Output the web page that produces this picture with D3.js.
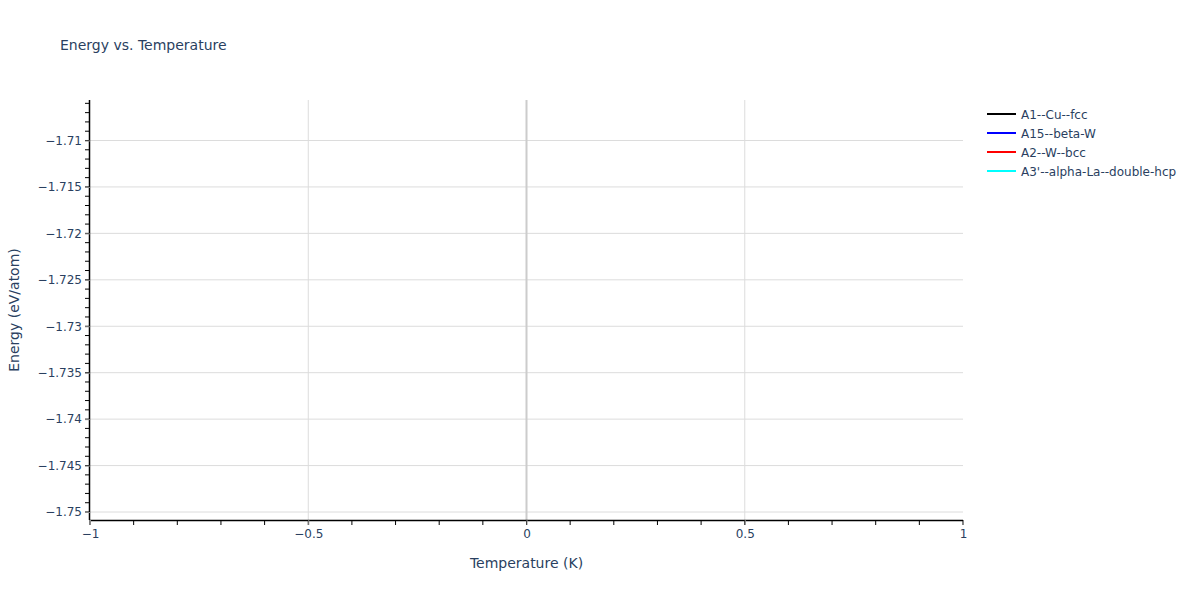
<!DOCTYPE html>
<html>
<head>
<meta charset="utf-8">
<script src="https://cdn.jsdelivr.net/npm/d3@7"></script>
<style>
  body { margin: 0; background: #fff; }
  text { font-family: "DejaVu Sans", Verdana, sans-serif; fill: #2a3f5f; }
</style>
</head>
<body>
<div id="chart"></div>
<script>
// Series names and colours (each trace holds a single point at T = 0 K)
const seriesNames = ["A1--Cu--fcc", "A15--beta-W", "A2--W--bcc", "A3'--alpha-La--double-hcp"];
const seriesColors = ["#000000", "#0000ff", "#ff0000", "#00ffff"];
const temperatures = [[0], [0], [0], [0]];
const energies = [[-1.7282], [-1.7282], [-1.7282], [-1.7282]];

// Axis ticks
const xTicks = [-1, -0.5, 0, 0.5, 1];
const xMinor = d3.range(-10, 11).map(d => d / 10);
const yTicks = [-1.71, -1.715, -1.72, -1.725, -1.73, -1.735, -1.74, -1.745, -1.75];
const yMinor = d3.range(-1750, -1705).map(d => d / 1000);

const W = 1200, H = 600;
const margin = { top: 100, right: 237, bottom: 80, left: 90 };
const width = W - margin.left - margin.right;
const height = H - margin.top - margin.bottom;

const svg = d3.select("#chart").append("svg")
    .attr("width", W)
    .attr("height", H);

const g = svg.append("g")
    .attr("transform", `translate(${margin.left},${margin.top})`);

const x = d3.scaleLinear().domain([-1, 1]).range([0, width]);
const y = d3.scaleLinear().domain([-1.75086, -1.70564]).range([height, 0]);

const fmt = v => String(v).replace("-", "\u2212");

// gridlines
g.append("g").selectAll("line")
    .data(yTicks)
    .enter().append("line")
    .attr("x1", 0).attr("x2", width)
    .attr("y1", d => y(d)).attr("y2", d => y(d))
    .style("stroke", "#dcdcdc")
    .style("stroke-width", 1);

g.append("g").selectAll("line")
    .data(xTicks.filter(d => d !== 0 && Math.abs(d) !== 1))
    .enter().append("line")
    .attr("x1", d => x(d)).attr("x2", d => x(d))
    .attr("y1", 0).attr("y2", height)
    .style("stroke", "#dcdcdc")
    .style("stroke-width", 1);

// zero line
g.append("line")
    .attr("x1", x(0)).attr("x2", x(0))
    .attr("y1", 0).attr("y2", height)
    .style("stroke", "#cccccc")
    .style("stroke-width", 2);

// series (single points, so no visible line)
const line = d3.line().x(d => x(d[0])).y(d => y(d[1]));
seriesNames.forEach((name, i) => {
    const pts = temperatures[i].map((t, j) => [t, energies[i][j]]);
    g.append("path")
        .datum(pts)
        .attr("fill", "none")
        .attr("stroke", seriesColors[i])
        .attr("stroke-width", 2)
        .attr("d", line);
});

// minor ticks
g.append("g").selectAll("line")
    .data(yMinor)
    .enter().append("line")
    .attr("x1", -5).attr("x2", 0)
    .attr("y1", d => y(d)).attr("y2", d => y(d))
    .style("stroke", "#000");

g.append("g").selectAll("line")
    .data(xMinor)
    .enter().append("line")
    .attr("x1", d => x(d)).attr("x2", d => x(d))
    .attr("y1", height).attr("y2", height + 5)
    .style("stroke", "#000");

// axes
const yAxis = g.append("g")
    .call(d3.axisLeft(y).tickValues(yTicks).tickFormat(fmt).tickSize(5).tickPadding(3));
const xAxis = g.append("g")
    .attr("transform", `translate(0,${height})`)
    .call(d3.axisBottom(x).tickValues(xTicks).tickFormat(fmt).tickSize(5).tickPadding(4));

[xAxis, yAxis].forEach(a => {
    a.select(".domain").style("stroke", "#000").style("stroke-width", 1.5);
    a.selectAll(".tick line").style("stroke", "#888");
    a.selectAll(".tick text")
        .style("font-family", "'DejaVu Sans', Verdana, sans-serif")
        .style("font-size", "12px")
        .style("fill", "#2a3f5f");
});
yAxis.select(".domain").attr("d", `M-0.5,0V${height}`);
xAxis.select(".domain").attr("d", `M0,0.5H${width}`);

// titles
svg.append("text")
    .attr("x", 60).attr("y", 50)
    .style("font-size", "14px")
    .text("Energy vs. Temperature");

svg.append("text")
    .attr("x", margin.left + width / 2)
    .attr("y", 568)
    .style("text-anchor", "middle")
    .style("font-size", "14px")
    .text("Temperature (K)");

svg.append("text")
    .attr("transform", `translate(19,${margin.top + height / 2}) rotate(-90)`)
    .style("text-anchor", "middle")
    .style("font-size", "14px")
    .text("Energy (eV/atom)");

// legend
const legend = svg.selectAll(".legend")
    .data(seriesNames)
    .enter().append("g")
    .attr("class", "legend")
    .attr("transform", (d, i) => `translate(987,${114 + i * 19})`);

legend.append("line")
    .attr("x1", 0).attr("x2", 29)
    .attr("y1", 0).attr("y2", 0)
    .attr("stroke", (d, i) => seriesColors[i])
    .attr("stroke-width", 2);

legend.append("text")
    .attr("x", 34)
    .attr("y", 4.5)
    .style("font-size", "12px")
    .text(d => d);
</script>
</body>
</html>
